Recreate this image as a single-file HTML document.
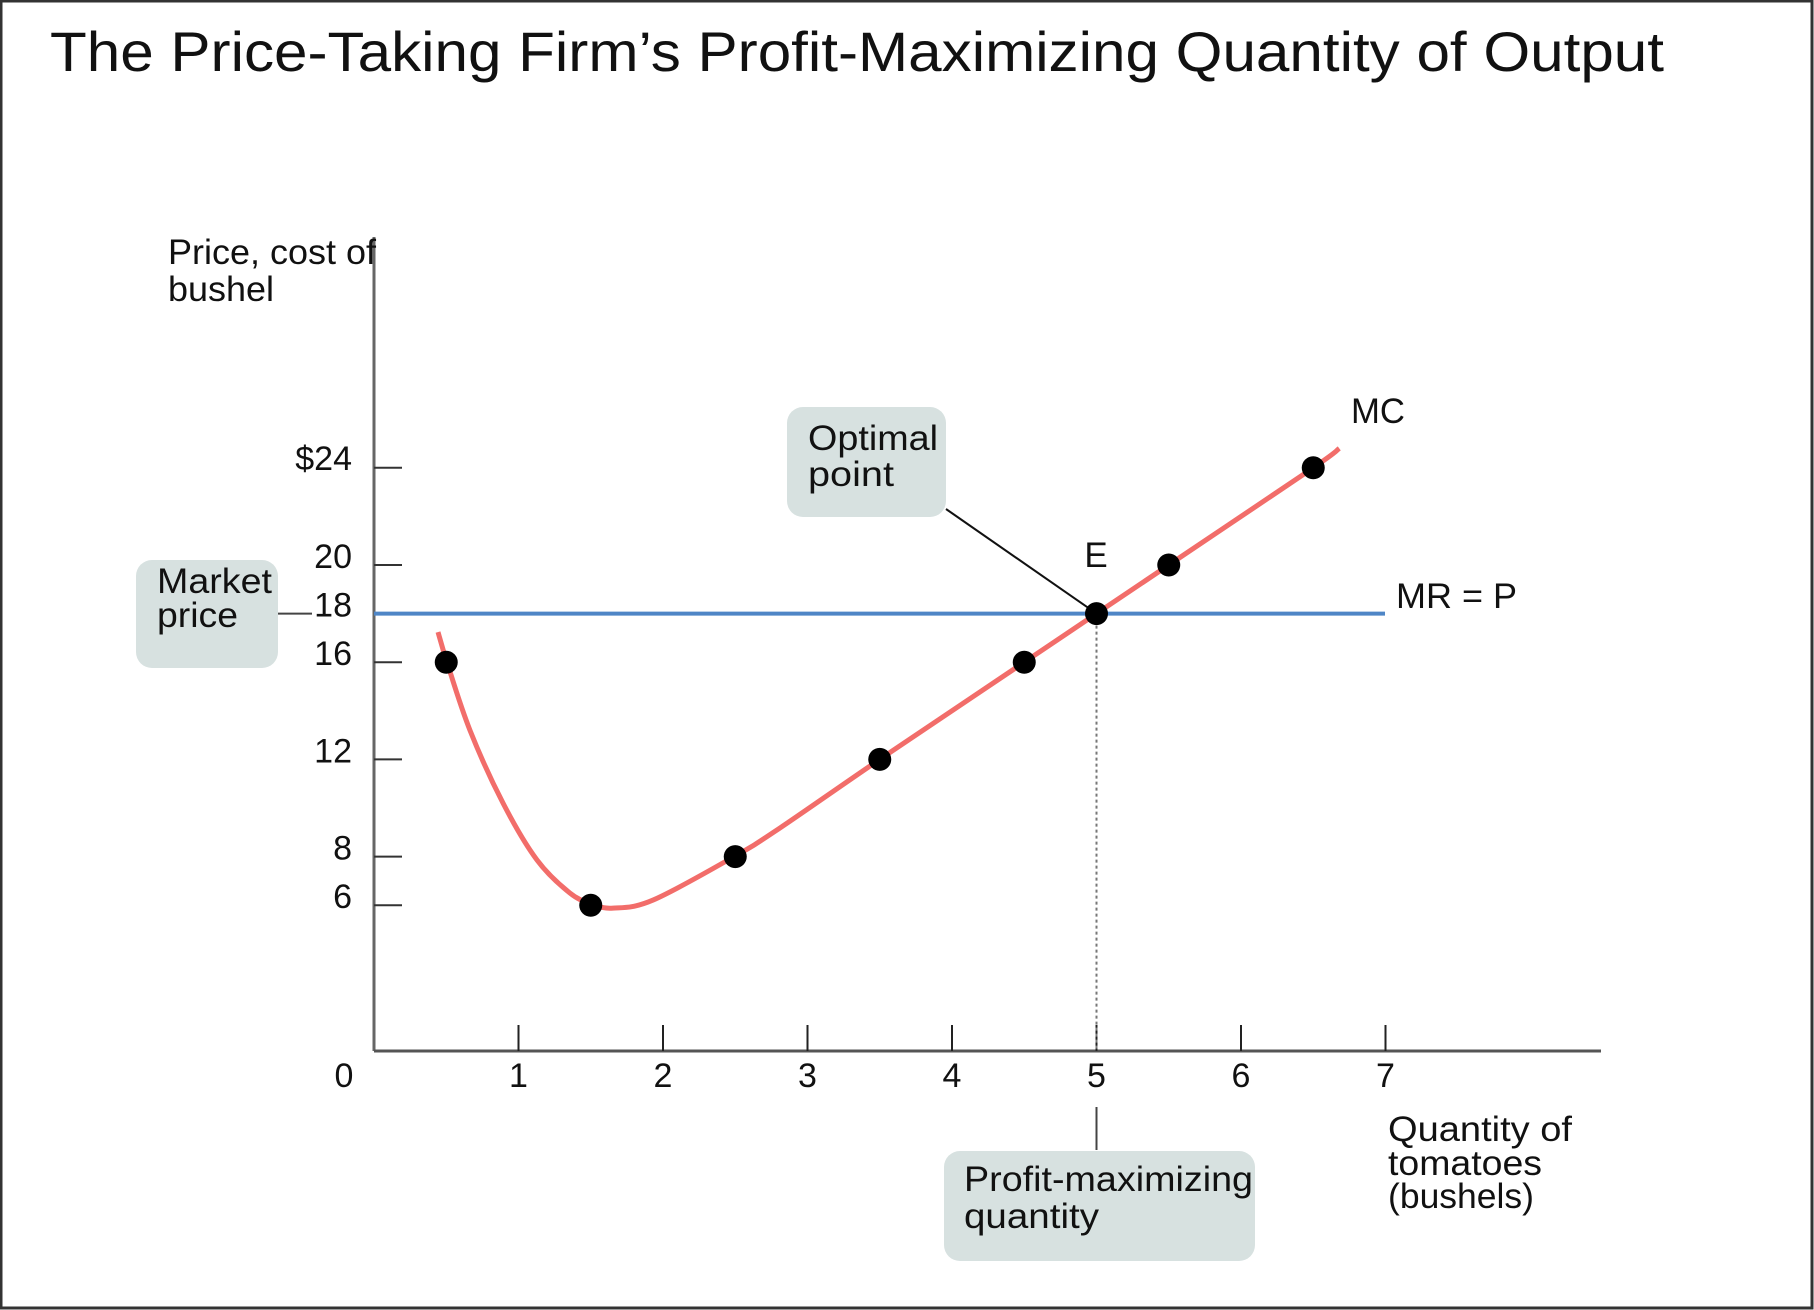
<!DOCTYPE html>
<html><head><meta charset="utf-8"><style>
html,body{margin:0;padding:0;background:#fff;}
svg{display:block;}
text{font-family:"Liberation Sans",sans-serif;fill:#111;}
</style></head><body>
<svg width="1814" height="1310" viewBox="0 0 1814 1310">
<rect x="1" y="1" width="1811" height="1307" fill="#fff" stroke="#333" stroke-width="3"/>
<text x="50" y="71" font-size="56" textLength="1614" lengthAdjust="spacingAndGlyphs">The Price-Taking Firm’s Profit-Maximizing Quantity of Output</text>
<g id="plot"></g>
</svg>
<script>
const xTicks=[1,2,3,4,5,6,7];
const yTicks=[24,20,18,16,12,8,6];
const yTickLabels=["$24","20","18","16","12","8","6"];
const mcQ=[0.5,1.5,2.5,3.5,4.5,5,5.5,6.5];
const mcP=[16,6,8,12,16,18,20,24];
const curveQ=[0.443,0.505,0.664,0.893,1.128,1.356,1.509,1.654,1.931,2.498,2.81,3.5,4.5,5.5,6.5,6.68];
const curveP=[17.24,16.0,13.2,10.2,7.86,6.5,6.05,5.88,6.21,8.02,9.18,12,16,20,24,24.8];
const price=18;
const optimalQ=5;

const X0=374,XS=144.5,Y0=1051,YS=24.3;
const sx=q=>X0+q*XS, sy=p=>Y0-p*YS;
const NS="http://www.w3.org/2000/svg";
const g=document.getElementById('plot');
function mk(tag,attrs,txt){const e=document.createElementNS(NS,tag);for(const k in attrs)e.setAttribute(k,attrs[k]);if(txt!=null)e.textContent=txt;g.appendChild(e);return e;}

let e;
e=mk('rect',{x:136,y:560,width:142,height:108,rx:16,fill:'#d7e1e0'});


e=mk('rect',{x:787,y:407,width:159,height:110,rx:16,fill:'#d7e1e0'});


e=mk('rect',{x:944,y:1151,width:311,height:110,rx:16,fill:'#d7e1e0'});



e=mk('line',{x1:X0,y1:237,x2:X0,y2:Y0,stroke:'#666',"stroke-width":3});


e=mk('line',{x1:X0,y1:Y0,x2:1601,y2:Y0,stroke:'#555',"stroke-width":3});



yTicks.forEach((v,i)=>{
  if(v!==price){
    e=mk('line',{x1:X0,y1:sy(v),x2:X0+28,y2:sy(v),stroke:'#333',"stroke-width":2});
    
    
  }
  e=mk('text',{x:352,y:sy(v)+ (i===0?2:3),"font-size":34,"text-anchor":"end"},yTickLabels[i]);
  
  
});
e=mk('text',{x:344,y:1087,"font-size":34,"text-anchor":"middle"},"0");


xTicks.forEach(v=>{
  e=mk('line',{x1:sx(v),y1:Y0-26,x2:sx(v),y2:Y0,stroke:'#222',"stroke-width":2});
  
  
  e=mk('text',{x:sx(v),y:1087,"font-size":34,"text-anchor":"middle"},String(v));
  
  
});

e=mk('line',{x1:X0,y1:sy(price),x2:1385,y2:sy(price),stroke:'#4f86c6',"stroke-width":4});


e=mk('line',{x1:sx(optimalQ),y1:sy(price),x2:sx(optimalQ),y2:Y0,stroke:'#777',"stroke-width":2,"stroke-dasharray":"3,3"});


e=mk('line',{x1:278,y1:sy(price),x2:312,y2:sy(price),stroke:'#444',"stroke-width":2});


e=mk('line',{x1:946,y1:509,x2:sx(optimalQ),y2:sy(price),stroke:'#111',"stroke-width":2});


e=mk('line',{x1:sx(optimalQ),y1:1107,x2:sx(optimalQ),y2:1150,stroke:'#444',"stroke-width":2});



// MC curve: Catmull-Rom through traced points
const pts=curveQ.map((q,i)=>[sx(q),sy(curveP[i])]);
let d=`M${pts[0][0]},${pts[0][1]}`;
for(let i=0;i<pts.length-1;i++){
  const p0=pts[Math.max(0,i-1)],p1=pts[i],p2=pts[i+1],p3=pts[Math.min(pts.length-1,i+2)];
  const c1=[p1[0]+(p2[0]-p0[0])/6,p1[1]+(p2[1]-p0[1])/6];
  const c2=[p2[0]-(p3[0]-p1[0])/6,p2[1]-(p3[1]-p1[1])/6];
  d+=` C${c1[0].toFixed(2)},${c1[1].toFixed(2)} ${c2[0].toFixed(2)},${c2[1].toFixed(2)} ${p2[0].toFixed(2)},${p2[1].toFixed(2)}`;
}
e=mk('path',{d:d,fill:'none',stroke:'#f26d6a',"stroke-width":5,"stroke-linejoin":"round"});


mcQ.forEach((q,i)=>{
  e=mk('circle',{cx:sx(q),cy:sy(mcP[i]),r:11.5,fill:'#000'});
  
  
});

function lbl(x,y,t,w,name,fs){
  e=mk('text',{x:x,y:y,"font-size":fs||35,textLength:w,lengthAdjust:"spacingAndGlyphs"},t);
  
  
}
lbl(168,264,"Price, cost of",208,'y-axis-title');
lbl(168,301,"bushel",106,'y-axis-title-line2');
lbl(157,593,"Market",115,'market-price-label');
lbl(157,627,"price",81,'market-price-label-line2');
lbl(808,450,"Optimal",130,'optimal-point-label');
lbl(808,486,"point",86,'optimal-point-label-line2');
lbl(964,1191,"Profit-maximizing",289,'profit-max-label');
lbl(964,1228,"quantity",135,'profit-max-label-line2');
lbl(1388,1141,"Quantity of",184,'x-axis-title');
lbl(1388,1175,"tomatoes",154,'x-axis-title-line2');
lbl(1388,1208,"(bushels)",146,'x-axis-title-line3');
lbl(1396,608,"MR = P",121,'mr-label');
lbl(1351,423,"MC",54,'mc-label');
e=mk('text',{x:1096,y:567,"font-size":35,"text-anchor":"middle"},"E");


</script>
</body></html>
